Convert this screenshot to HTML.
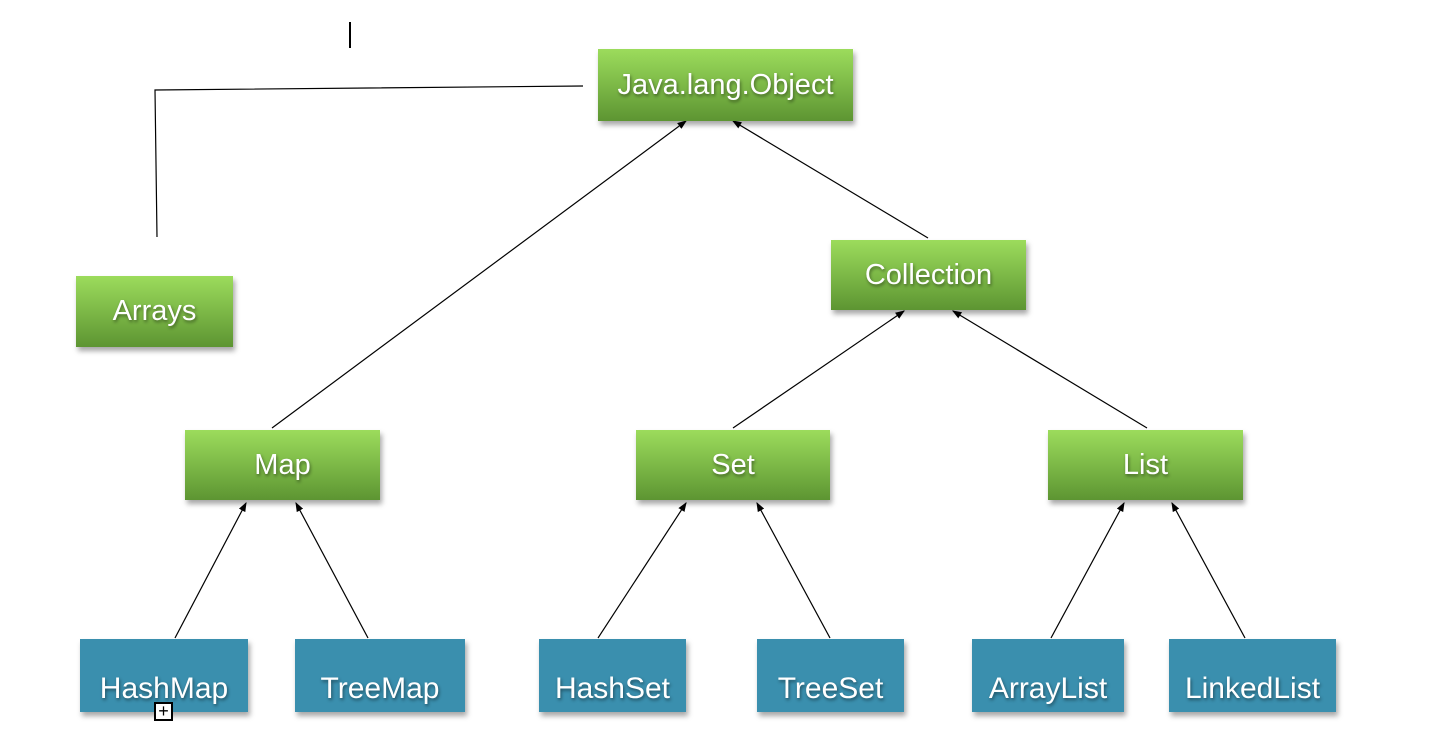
<!DOCTYPE html>
<html><head><style>
body{margin:0;width:1444px;height:756px;background:#fff;position:relative;overflow:hidden;font-family:"Liberation Sans",sans-serif}
.g,.b{position:absolute;color:#fff;display:flex;justify-content:center;font-size:29px;text-shadow:1px 2px 3px rgba(0,0,0,.45);box-shadow:2px 4px 5px rgba(0,0,0,.35)}
.g{background:linear-gradient(#9cdc5c,#5d9532);align-items:center}
.b{background:#3a8fae;align-items:flex-end;padding-bottom:6px;box-sizing:border-box;font-size:30px}
</style></head><body>
<svg width="1444" height="756" style="position:absolute;left:0;top:0">
<defs><marker id="a" markerWidth="8" markerHeight="8" refX="7" refY="4" orient="auto"><path d="M0,1 L8,4 L0,7Z" fill="#000"/></marker></defs>
<g stroke="#000" stroke-width="1.2" fill="none">
<line x1="350" y1="22" x2="350" y2="48" stroke-width="2"/>
<polyline points="583,86 155,90 157,237"/>
<g marker-end="url(#a)">
<line x1="272" y1="428" x2="686" y2="121"/>
<line x1="928" y1="238" x2="733" y2="121"/>
<line x1="733" y1="428" x2="904" y2="311"/>
<line x1="1147" y1="428" x2="953" y2="311"/>
<line x1="175" y1="638" x2="246" y2="503"/>
<line x1="368" y1="638" x2="296" y2="503"/>
<line x1="598" y1="638" x2="686" y2="503"/>
<line x1="830" y1="638" x2="757" y2="503"/>
<line x1="1051" y1="638" x2="1124" y2="503"/>
<line x1="1245" y1="638" x2="1172" y2="503"/>
</g></g></svg>
<div class="g" style="left:598px;top:49px;width:255px;height:72px">Java.lang.Object</div>
<div class="g" style="left:76px;top:276px;width:157px;height:71px">Arrays</div>
<div class="g" style="left:831px;top:240px;width:195px;height:70px">Collection</div>
<div class="g" style="left:185px;top:430px;width:195px;height:70px">Map</div>
<div class="g" style="left:636px;top:430px;width:194px;height:70px">Set</div>
<div class="g" style="left:1048px;top:430px;width:195px;height:70px">List</div>
<div class="b" style="left:80px;top:639px;width:168px;height:73px">HashMap</div>
<div class="b" style="left:295px;top:639px;width:170px;height:73px">TreeMap</div>
<div class="b" style="left:539px;top:639px;width:147px;height:73px">HashSet</div>
<div class="b" style="left:757px;top:639px;width:147px;height:73px">TreeSet</div>
<div class="b" style="left:972px;top:639px;width:152px;height:73px">ArrayList</div>
<div class="b" style="left:1169px;top:639px;width:167px;height:73px">LinkedList</div>
<div style="position:absolute;left:154px;top:702px;width:19px;height:19px;border:2px solid #000;background:#fff;box-sizing:border-box;font-size:18px;line-height:14px;text-align:center">+</div>
</body></html>
